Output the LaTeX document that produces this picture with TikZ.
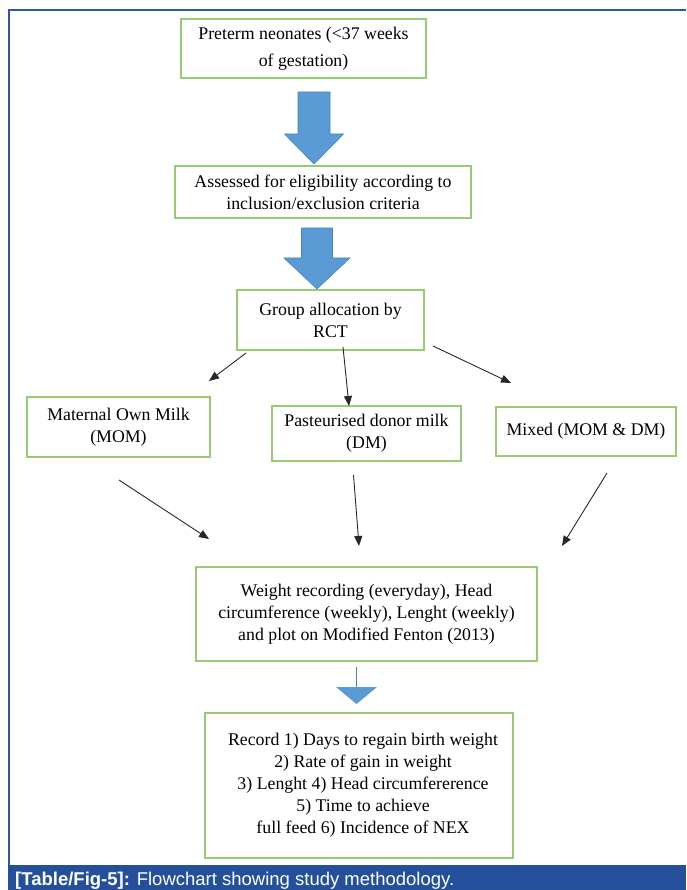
\documentclass[tikz,border=0pt]{standalone}
\usepackage{fontspec}
\setmainfont{Liberation Serif}
\newfontfamily\capfont{Liberation Sans}
\usetikzlibrary{arrows.meta}
\definecolor{boxgreen}{RGB}{152,204,116}
\definecolor{bigblue}{RGB}{91,155,213}
\definecolor{bigedge}{RGB}{72,132,192}
\definecolor{frameblue}{RGB}{48,88,165}
\definecolor{bandblue}{RGB}{36,80,155}
\definecolor{thinline}{RGB}{40,40,40}
\tikzset{
  box/.style={draw=boxgreen, line width=1.3pt, fill=white, inner sep=0pt, outer sep=0pt,
    anchor=north west, align=center, font=\fontsize{17.8}{22}\selectfont},
  thinarrow/.style={draw=thinline, line width=0.9pt, -{Triangle[length=10pt,width=8pt]}},
  bigarrow/.style={fill=bigblue, draw=bigedge, line width=0.6pt},
}
\begin{document}
\begin{tikzpicture}[x=1pt,y=-1pt]
\useasboundingbox (0,0) rectangle (686,890);
\fill[white] (0,0) rectangle (686,890);
% frame
\draw[frameblue, line width=1.2pt] (9,865) -- (9,10) -- (686,10);
% caption band
\fill[bandblue] (8,865) rectangle (686,890);
\node[anchor=base west, inner sep=0pt, text=white, font=\capfont\fontsize{18.5}{20}\selectfont] (cap) at (15,885.5)
  {\textbf{[Table/Fig-5]:} Flowchart showing study methodology.};

% boxes
\node[box, minimum width=245, minimum height=59, font=\fontsize{17.8}{27}\selectfont] (b1) at (181,19)
  {Preterm neonates (<37 weeks\\of gestation)};
\node[box, minimum width=296, minimum height=52] (b2) at (175,166)
  {Assessed for eligibility according to\\inclusion/exclusion criteria};
\node[box, minimum width=187, minimum height=60] (b3) at (237,290)
  {Group allocation by\\RCT};
\node[box, minimum width=183, minimum height=60] (mom) at (27,397)
  {Maternal Own Milk\\(MOM)};
\node[box, minimum width=189, minimum height=55] (dm) at (272,406)
  {Pasteurised donor milk\\(DM)};
\node[box, minimum width=180, minimum height=49] (mix) at (496,407)
  {Mixed (MOM \& DM)};
\node[box, minimum width=341, minimum height=94] (b4) at (196,567)
  {Weight recording (everyday), Head\\circumference (weekly), Lenght (weekly)\\and plot on Modified Fenton (2013)};
\node[box, minimum width=308, minimum height=145] (b5) at (205,713)
  {\hspace*{8pt}Record 1) Days to regain birth weight\\\hspace*{8pt}2) Rate of gain in weight\\\hspace*{8pt}3) Lenght 4) Head circumfererence\\\hspace*{8pt}5) Time to achieve\\\hspace*{8pt}full feed 6) Incidence of NEX};

% big blue arrows
\draw[bigarrow] (298,92) -- (330,92) -- (330,134) -- (343.5,134) -- (314,164) -- (284.5,134) -- (298,134) -- cycle;
\draw[bigarrow] (301.5,228) -- (332.5,228) -- (332.5,258) -- (350,258) -- (317,289) -- (284,258) -- (301.5,258) -- cycle;

% thin arrows from group allocation
\coordinate (a1s) at (246,353); \coordinate (a1e) at (209,381);
\coordinate (a2s) at (343,347); \coordinate (a2e) at (349,406);
\coordinate (a3s) at (433,346); \coordinate (a3e) at (511,383);
\draw[thinarrow] (a1s) -- (a1e);
\draw[thinarrow] (a2s) -- (a2e);
\draw[thinarrow] (a3s) -- (a3e);

% thin arrows towards weight recording
\coordinate (c1s) at (119,480); \coordinate (c1e) at (209,539);
\coordinate (c2s) at (353.5,475); \coordinate (c2e) at (359,546);
\coordinate (c3s) at (607,473); \coordinate (c3e) at (562,546);
\draw[thinarrow] (c1s) -- (c1e);
\draw[thinarrow] (c2s) -- (c2e);
\draw[thinarrow] (c3s) -- (c3e);

% small arrow to record box
\coordinate (d1) at (356,667); \coordinate (d2) at (356,687);
\draw[draw=bigedge, line width=0.8pt] (d1) -- (d2);
\fill[bigblue] (336,687) -- (377,687) -- (356.5,704) -- cycle;
\end{tikzpicture}
\end{document}
